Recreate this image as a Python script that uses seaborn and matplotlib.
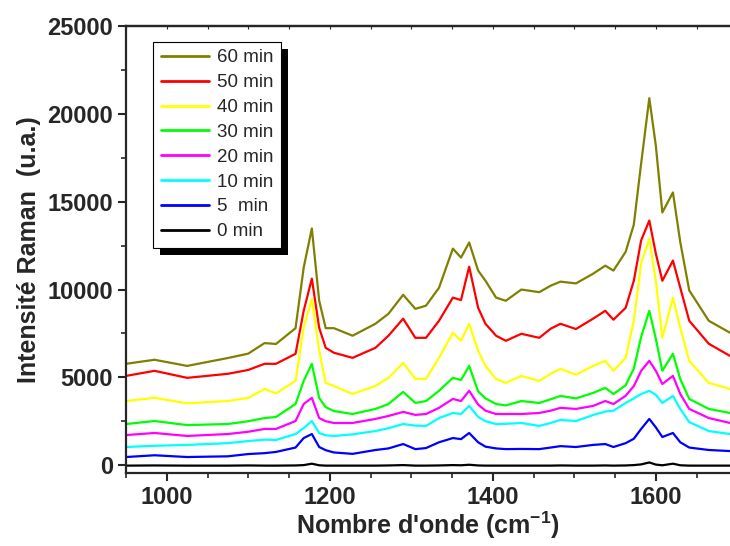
import matplotlib
matplotlib.use("Agg")
import matplotlib.pyplot as plt
import seaborn as sns
import pandas as pd
from matplotlib.ticker import MultipleLocator
from matplotlib.patches import Rectangle

# wavenumber grid (cm-1)
wavenumber = [950, 985, 1025, 1075, 1100, 1120, 1134, 1158, 1168, 1178, 1187, 1195,
              1205, 1228, 1256, 1272, 1290, 1305, 1318, 1334, 1351, 1361, 1371, 1382,
              1391, 1404, 1416, 1435, 1457, 1471, 1483, 1502, 1523, 1538, 1548, 1563,
              1573, 1582, 1592, 1600, 1608, 1621, 1630, 1641, 1665, 1691]

i60 = [5770, 6000, 5650, 6100, 6350, 6950, 6900, 7800, 11250, 13480, 9360, 7800,
       7800, 7370, 8050, 8620, 9700, 8900, 9080, 10100, 12330, 11820, 12680, 11080,
       10500, 9540, 9360, 10000, 9850, 10220, 10450, 10350, 10900, 11360, 11080, 12150,
       13700, 17190, 20900, 18200, 14390, 15530, 12700, 9950, 8220, 7540]
i50 = [5080, 5370, 4970, 5200, 5420, 5770, 5770, 6340, 8790, 10620, 7820, 6680,
       6400, 6110, 6680, 7370, 8340, 7250, 7250, 8220, 9540, 9400, 11300, 8960,
       8050, 7370, 7080, 7480, 7250, 7770, 8050, 7750, 8340, 8790, 8280, 8960,
       10500, 12800, 13930, 12050, 10500, 11650, 10100, 8220, 6910, 6220]
i40 = [3650, 3830, 3520, 3650, 3830, 4340, 4080, 4800, 7820, 9480, 6510, 4680,
       4510, 4050, 4510, 4970, 5820, 4910, 4910, 6110, 7540, 7080, 8050, 6510,
       5650, 4910, 4680, 5080, 4800, 5200, 5480, 5150, 5650, 5940, 5370, 6110,
       8220, 11500, 12900, 10500, 7250, 9540, 7820, 5940, 4680, 4340]
i30 = [2340, 2510, 2280, 2340, 2500, 2680, 2740, 3480, 4800, 5770, 3830, 3300,
       3080, 2910, 3200, 3480, 4170, 3540, 3650, 4230, 4970, 4850, 5650, 4200,
       3800, 3480, 3400, 3650, 3540, 3750, 3940, 3800, 4110, 4400, 4050, 4550,
       5500, 7300, 8790, 7200, 5370, 6340, 4900, 3770, 3200, 2970]
i20 = [1710, 1830, 1660, 1770, 1900, 2060, 2060, 2510, 3480, 3830, 2680, 2500,
       2400, 2400, 2630, 2800, 3030, 2860, 2910, 3260, 3770, 3650, 4230, 3450,
       3100, 2910, 2910, 2910, 2970, 3100, 3260, 3200, 3370, 3650, 3480, 3950,
       4500, 5370, 5940, 5370, 4620, 5080, 4050, 3200, 2680, 2400]
i10 = [1030, 1100, 1150, 1250, 1370, 1450, 1430, 1770, 2110, 2510, 1830, 1700,
       1660, 1750, 1940, 2100, 2340, 2250, 2230, 2680, 2970, 2910, 3370, 2750,
       2500, 2340, 2350, 2400, 2230, 2400, 2570, 2510, 2850, 3050, 3100, 3540,
       3800, 4050, 4230, 4000, 3540, 3940, 3200, 2450, 1940, 1770]
i5 = [460, 560, 460, 500, 630, 680, 750, 1000, 1540, 1770, 1030, 850,
      720, 640, 860, 950, 1200, 910, 970, 1300, 1540, 1480, 1830, 1300,
      1050, 950, 910, 920, 910, 1000, 1080, 1030, 1150, 1200, 1030, 1250,
      1500, 2060, 2630, 2150, 1600, 1830, 1300, 1000, 860, 800]
i0 = [-30, -20, -30, -30, -20, -30, -30, -20, 0, 80, -10, -30,
      -30, -30, -30, -20, 0, -30, -30, -20, 0, -10, 20, -20,
      -30, -30, -30, -30, -30, -30, -20, -30, -30, -20, -30, -20,
      0, 40, 150, 30, -10, 80, -10, -30, -30, -30]

labels = ["60 min", "50 min", "40 min", "30 min", "20 min", "10 min", "5  min", "0 min"]
colors = ["#808000", "#FF0000", "#FFFF00", "#00FF00", "#FF00FF", "#00FFFF", "#0000FF", "#000000"]
series = [i60, i50, i40, i30, i20, i10, i5, i0]

rows = []
for lab, vals in zip(labels, series):
    for w, v in zip(wavenumber, vals):
        rows.append({"wavenumber": w, "intensity": v, "time": lab})
df = pd.DataFrame(rows)

sns.set_style("ticks")
plt.rcParams["font.family"] = ["Liberation Sans", "DejaVu Sans"]
plt.rcParams["mathtext.fontset"] = "custom"
plt.rcParams["mathtext.rm"] = "Liberation Sans:bold"
plt.rcParams["mathtext.bf"] = "Liberation Sans:bold"

fig = plt.figure(figsize=(7.3, 5.46), dpi=100)
ax = fig.add_axes([0.1726, 0.1337, 0.8274, 0.8183])

sns.lineplot(data=df, x="wavenumber", y="intensity", hue="time", hue_order=labels,
             palette=dict(zip(labels, colors)), estimator=None, linewidth=1.6, ax=ax)
# thinner baseline for 0 min
ax.lines[-1].set_linewidth(1.0)

ax.set_xlim(950, 1691)
ax.set_ylim(-450, 25000)
ax.xaxis.set_major_locator(MultipleLocator(200))
ax.xaxis.set_minor_locator(MultipleLocator(50))
ax.yaxis.set_major_locator(MultipleLocator(5000))
ax.yaxis.set_minor_locator(MultipleLocator(2500))
ax.tick_params(which="major", direction="out", length=6, width=1.5, labelsize=17)
ax.tick_params(which="minor", direction="out", length=3.5, width=1.2)
for t in ax.get_xticklabels() + ax.get_yticklabels():
    t.set_fontweight("bold")

for s in ["left", "bottom", "top"]:
    ax.spines[s].set_linewidth(1.6)
ax.spines["right"].set_visible(False)

top = ax.secondary_xaxis("top")
top.xaxis.set_major_locator(MultipleLocator(50))
top.tick_params(direction="in", length=2.5, width=0.8, labeltop=False)
top.spines["top"].set_linewidth(1.6)

ax.set_xlabel("Nombre d'onde (cm$^{-1}$)", fontsize=18, fontweight="bold", labelpad=0)
ax.set_ylabel("Intensité Raman  (u.a.)", fontsize=18, fontweight="bold", labelpad=4)

leg = ax.legend(loc="upper left", bbox_to_anchor=(0.045, 0.965), borderaxespad=0,
                fontsize=13.5, handlelength=2.6, labelspacing=0.41, fancybox=False,
                frameon=True, edgecolor="black", framealpha=1, borderpad=0.4,
                handletextpad=0.4)
leg.get_frame().set_linewidth(0.8)
for h in leg.get_lines():
    h.set_linewidth(2.0)
leg.set_zorder(6)

fig.canvas.draw()
bb = leg.get_window_extent()
inv = ax.transAxes.inverted()
(x0, y0) = inv.transform((bb.x0 + 7, bb.y0 - 7))
(x1, y1) = inv.transform((bb.x1 + 7, bb.y1 - 7))
shadow = Rectangle((x0, y0), x1 - x0, y1 - y0, transform=ax.transAxes,
                   facecolor="black", edgecolor="none", zorder=5, clip_on=False)
ax.add_patch(shadow)

fig.savefig("out.png", dpi=100)
